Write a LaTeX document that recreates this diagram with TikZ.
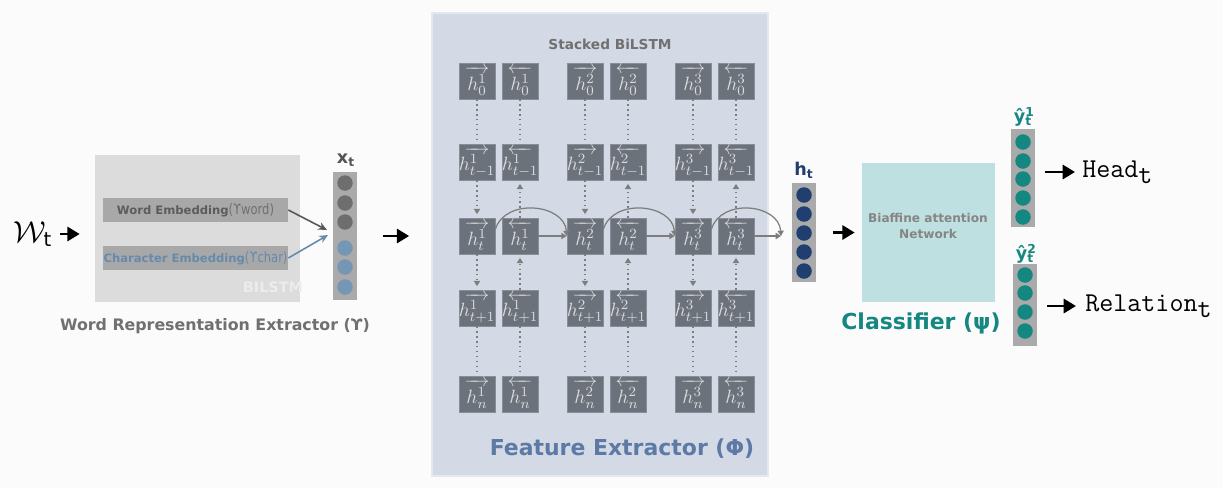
\documentclass[tikz,border=0pt]{standalone}
\usepackage{fontspec}
\setmainfont{DejaVu Sans}
\usepackage{tikz}
\usetikzlibrary{positioning, arrows.meta, calc}
\definecolor{pagebg}{RGB}{251,251,251}
\definecolor{wrgray}{RGB}{220,220,220}
\definecolor{bargray}{RGB}{168,168,168}
\definecolor{wordtext}{RGB}{92,92,92}
\definecolor{chartext}{RGB}{102,138,172}
\definecolor{vecgray}{RGB}{170,170,170}
\definecolor{dotgray}{RGB}{110,110,110}
\definecolor{dotblue}{RGB}{118,150,182}
\definecolor{panelblue}{RGB}{211,218,229}
\definecolor{cellgray}{RGB}{108,114,124}
\definecolor{featblue}{RGB}{92,122,165}
\definecolor{navy}{RGB}{32,62,112}
\definecolor{biafteal}{RGB}{191,224,224}
\definecolor{clsteal}{RGB}{20,135,128}
\definecolor{linkgray}{RGB}{125,125,125}
\definecolor{labelgray}{RGB}{112,112,112}

% arrowed cell labels, the arrow keeps one length
\newcommand{\fwcell}[2]{$\overrightarrow{\makebox[14pt]{\rule{0pt}{10.5pt}$h^{#1}_{#2}$}}$}
\newcommand{\bwcell}[2]{$\overleftarrow{\makebox[14pt]{\rule{0pt}{10.5pt}$h^{#1}_{#2}$}}$}

\begin{document}
\begin{tikzpicture}[
        x=0.02cm, y=-0.02cm,
        >={Triangle[length=3pt,width=3.5pt]},
        % Cells of the stacked BiLSTM
        cell/.style={
            draw=cellgray!80!white,
            fill=cellgray,
            text=white!86!black,
            minimum size=0.72cm,
            inner sep=0pt,
            font=\fontsize{11}{13}\selectfont
        },
        % Links between the cells
        vlink/.style={draw=linkgray, dotted, line width=0.8pt, shorten >=2pt},
        hlink/.style={draw=linkgray, line width=0.7pt, ->},
        % Vectors and their units
        vec/.style={fill=vecgray, minimum width=0.48cm, inner sep=0pt},
        dot/.style={circle, minimum size=0.31cm, inner sep=0pt},
        vlabel/.style={font=\fontsize{10}{12}\selectfont\bfseries},
        % Embedding bars
        embar/.style={fill=bargray, minimum width=3.7cm, minimum height=0.48cm,
            inner sep=0pt, font=\fontsize{6.6}{8}\selectfont},
        embarrow/.style={line width=0.9pt, -{Stealth[length=5pt,width=4.5pt]}},
        % Block titles
        blocklabel/.style={font=\fontsize{12.5}{15}\selectfont\bfseries},
        bigarrow/.style={line width=1.6pt, -{Triangle[length=7pt,width=8pt]}},
        outtext/.style={anchor=west, inner sep=0pt, font=\fontsize{15.5}{18}\selectfont\ttfamily}
    ]

    \fill[pagebg, use as bounding box] (0,0) rectangle (1223,488);

    % 1. Word Representation Extractor
    \node (w) at (33,234) {\fontsize{16}{18}\selectfont$\mathcal{W}_{\mathrm{t}}$};
    \node[fill=wrgray, minimum width=4.1cm, minimum height=2.94cm] (wrbox) at (197.5,228.5) {};
    \node[embar] (wemb) at (195.5,210)
        {\bfseries\color{wordtext}Word Embedding\mdseries\color{labelgray}\scalebox{0.8}[1]{\fontsize{8.2}{9}\selectfont(ϒword)}};
    \node[embar] (cemb) at (195.5,258)
        {\bfseries\color{chartext}Character Embedding\mdseries\scalebox{0.8}[1]{\fontsize{8.2}{9}\selectfont(ϒchar)}};
    \node[font=\fontsize{8.2}{10}\selectfont\bfseries, text=white!45!wrgray] (ghost) at (273,287) {BILSTM};
    \node[font=\fontsize{9}{11}\selectfont\bfseries, text=labelgray] (wrlabel) at (215,326)
        {Word Representation Extractor (ϒ)};

    \node[vec, minimum height=2.56cm] (xvec) at (345,236) {};
    \foreach \i/\yy/\col in {1/183/dotgray, 2/203/dotgray, 3/222/dotgray,
                             4/248/dotblue, 5/267/dotblue, 6/287/dotblue} {
        \node[dot, fill=\col] (x-\i) at (345,\yy) {};
    }
    \node[vlabel, text=dotgray!75!black] (xlabel) at (346,160) {x\textsubscript{t}};

    \coordinate (xin1) at (327,230);
    \coordinate (xin2) at (328,235);
    \draw[embarrow, draw=dotgray!80!black] (wemb.east) -- (xin1);
    \draw[embarrow, draw=chartext] (cemb.east) -- (xin2);
    \draw[bigarrow, shorten <=1pt, shorten >=0.3cm] (w.east) -- (w.east -| wrbox.west);

    % 2. Feature Extractor (stacked BiLSTM)
    \node[fill=panelblue, draw=panelblue!60!white, line width=1pt,
          minimum width=6.72cm, minimum height=9.26cm] (panel) at (600,244.5) {};
    \node[font=\fontsize{7.8}{9}\selectfont\bfseries, text=labelgray] (stacktitle) at (610,44) {Stacked BiLSTM};
    \node[blocklabel, text=featblue] (featlabel) at (622,449) {Feature Extractor (Φ)};

    \draw[bigarrow, shorten <=0.52cm, shorten >=0.44cm] (xvec.east) -- (xvec.east -| panel.west);

    \foreach \l/\xf in {1/477, 2/585, 3/693} {
        \pgfmathtruncatemacro{\xb}{\xf+43}
        \foreach \r/\yc/\sb in {1/81/0, 2/162/t{-}1, 3/236/t, 4/308/t{+}1, 5/394/n} {
            \node[cell] (f-\l-\r) at (\xf,\yc) {\fwcell{\l}{\sb}};
            \node[cell] (b-\l-\r) at (\xb,\yc) {\bwcell{\l}{\sb}};
        }
    }

    % vertical links (dotted)
    \foreach \l in {1,2,3} {
        \draw[vlink] (f-\l-1) -- (f-\l-2);
        \draw[vlink] (b-\l-1) -- (b-\l-2);
        \draw[vlink, ->] (f-\l-2) -- (f-\l-3);
        \draw[vlink, ->] (b-\l-3) -- (b-\l-2);
        \draw[vlink, ->] (f-\l-3) -- (f-\l-4);
        \draw[vlink, ->] (b-\l-4) -- (b-\l-3);
        \draw[vlink] (f-\l-4) -- (f-\l-5);
        \draw[vlink] (b-\l-4) -- (b-\l-5);
    }

    % links between the layers
    \foreach \l/\n in {1/2, 2/3} {
        \draw[hlink] (b-\l-3) -- (f-\n-3);
        \draw[hlink] (f-\l-3.20) .. controls +(10,-32) and +(-2,-32) .. (f-\n-3.west);
    }
    \coordinate (hin) at (781,236);
    \draw[hlink] (b-3-3) -- (hin);
    \draw[hlink] (f-3-3.20) .. controls +(10,-32) and +(-2,-32) .. (hin);

    % 3. Classifier
    \node[vec, minimum height=1.98cm] (hvec) at (804,232.5) {};
    \foreach \i/\yy in {1/195, 2/214, 3/233, 4/252, 5/271} {
        \node[dot, fill=navy] (h-\i) at (804,\yy) {};
    }
    \node[vlabel, text=navy] (hlabel) at (804,170) {h\textsubscript{t}};

    \node[fill=biafteal, minimum width=2.66cm, minimum height=2.78cm] (biaf) at (928.5,232.5) {};
    \node[font=\fontsize{6.9}{9}\selectfont\bfseries, text=labelgray!85!white, align=center] (biaftext)
        at (928,226) {Biaffine attention\\Network};
    \node[blocklabel, text=clsteal] (clslabel) at (921,323) {Classifier (ψ)};

    \draw[bigarrow, shorten <=0.34cm, shorten >=0.14cm] (hvec.east) -- (hvec.east -| biaf.west);

    \node[vec, minimum height=1.96cm] (yavec) at (1023,178) {};
    \foreach \i/\yy in {1/142, 2/161, 3/179, 4/198, 5/217} {
        \node[dot, fill=clsteal] (ya-\i) at (1023,\yy) {};
    }
    \node[vlabel, text=clsteal] (yalabel) at (1023,117)
        {ŷ\makebox[0pt][l]{\textsuperscript{1}}\textsubscript{t}};

    \node[vec, minimum height=1.64cm] (ybvec) at (1025,305) {};
    \foreach \i/\yy in {1/275, 2/293, 3/312, 4/331} {
        \node[dot, fill=clsteal] (yb-\i) at (1025,\yy) {};
    }
    \node[vlabel, text=clsteal] (yblabel) at (1025,254)
        {ŷ\makebox[0pt][l]{\textsuperscript{2}}\textsubscript{t}};

    \node[outtext] (head) at (1082,172) {Head\raisebox{-0.5ex}{t}};
    \node[outtext] (rel) at (1085,306) {Relation\raisebox{-0.5ex}{t}};
    \draw[bigarrow, shorten <=0.2cm, shorten >=0.14cm] (head.west -| yavec.east) -- (head.west);
    \draw[bigarrow, shorten <=0.2cm, shorten >=0.18cm] (rel.west -| ybvec.east) -- (rel.west);

\end{tikzpicture}
\end{document}
